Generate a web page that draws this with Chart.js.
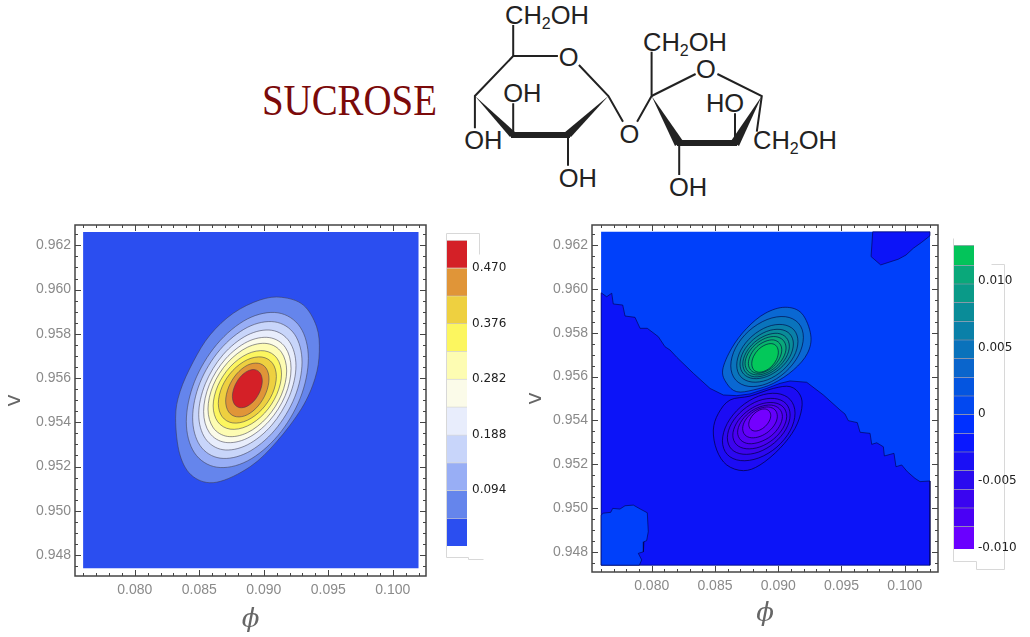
<!DOCTYPE html>
<html lang="en">
<head>
<meta charset="UTF-8">
<title>Sucrose</title>
<script src="https://cdn.jsdelivr.net/npm/chart.js"></script>
<style>
  html, body { margin: 0; background: #fff; }
  body { position: relative; width: 1030px; height: 637px; overflow: hidden; }
  canvas, svg { position: absolute; }
</style>
</head>
<body>
<svg id="sketch" style="left:0;top:0" width="1030" height="637">
  <text x="262" y="115" font-family="Liberation Serif" font-size="44" fill="#7b0a0a" textLength="175" lengthAdjust="spacingAndGlyphs">SUCROSE</text>
  <g stroke="#222" stroke-width="2" fill="none">
    <path d="M513.2 25V56H557.9M578.9 65L608.4 96L623 121.7M637.1 121.7L651.6 96V51.7M608.4 96"/>
    <path d="M513.2 56L474.9 96V128.3M513.2 135V103.3M568 135V165.7"/>
    <path d="M651.6 96L695.6 74M717.4 74L761.8 96L756.8 131.7M735 143.3V113.3M679.2 143.3V175"/>
  </g>
  <g fill="#222" stroke="none">
    <path d="M608.4 96L571 137L564 133Z"/>
    <path d="M474.9 96L516 133L510 137Z"/>
    <rect x="511" y="132" width="59" height="6"/>
    <path d="M651.6 96L683 141L675 146Z"/>
    <rect x="677" y="140" width="60" height="6"/>
    <path d="M761.8 96L739 146L731 141Z"/>
  </g>
  <g font-family="Liberation Sans" font-size="25.5" fill="#222" text-anchor="middle" dominant-baseline="central">
    <text x="568.6" y="57.3">O</text>
    <text x="522.3" y="93.3">OH</text>
    <text x="483.3" y="140">OH</text>
    <text x="577.8" y="178.3">OH</text>
    <text x="629.4" y="134">O</text>
    <text x="705.9" y="69.3">O</text>
    <text x="725" y="102.7">HO</text>
    <text x="688" y="187.3">OH</text>
  </g>
  <g font-family="Liberation Sans" font-size="25.5" fill="#222">
    <text x="505" y="24">CH<tspan font-size="16" dy="5">2</tspan><tspan dy="-5">OH</tspan></text>
    <text x="643" y="51">CH<tspan font-size="16" dy="5">2</tspan><tspan dy="-5">OH</tspan></text>
    <text x="753" y="149">CH<tspan font-size="16" dy="5">2</tspan><tspan dy="-5">OH</tspan></text>
  </g>
  <g stroke="#d8d8d8" stroke-width="1" fill="none">
    <path d="M479.5 254.5V233.5H446.5V557.5H468.5V559.5H483.5"/>
    <path d="M991.5 264.5H1004.5V569.5H976.5V561.5H953.5V238.5"/>
  </g>
</svg>
<canvas id="leftPlot" style="left:0;top:220px" width="432" height="417"></canvas>
<canvas id="rightPlot" style="left:520px;top:220px" width="422" height="417"></canvas>
<canvas id="leftBar" style="left:440px;top:230px" width="80" height="330"></canvas>
<canvas id="rightBar" style="left:947px;top:235px" width="83" height="330"></canvas>
<script>
// plot field, same in both panels
const fieldX = [0.076, 0.102, 0.102, 0.076];
const fieldY = [0.9474, 0.9474, 0.9626, 0.9626];

const xMajor = [0.08, 0.085, 0.09, 0.095, 0.1];
const yMajor = [0.948, 0.95, 0.952, 0.954, 0.956, 0.958, 0.96, 0.962];

// left panel contours, outside to inside
const leftContourX = [
  [0.08317,0.08351,0.08454,0.08584,0.08764,0.08971,0.09139,0.09307,0.09410,0.09431,0.09398,0.09294,0.09100,0.08894,0.08635,0.08454,0.08351],
  [0.09346,0.09283,0.09110,0.08873,0.08636,0.08463,0.08400,0.08463,0.08636,0.08873,0.09110,0.09283],
  [0.09297,0.09240,0.09085,0.08873,0.08661,0.08506,0.08449,0.08506,0.08661,0.08873,0.09085,0.09240],
  [0.09250,0.09199,0.09062,0.08873,0.08684,0.08547,0.08496,0.08547,0.08684,0.08873,0.09062,0.09199],
  [0.09212,0.09167,0.09043,0.08873,0.08703,0.08579,0.08534,0.08579,0.08703,0.08873,0.09043,0.09167],
  [0.09178,0.09137,0.09026,0.08873,0.08720,0.08609,0.08568,0.08609,0.08720,0.08873,0.09026,0.09137],
  [0.09138,0.09102,0.09006,0.08873,0.08740,0.08644,0.08608,0.08644,0.08740,0.08873,0.09006,0.09102],
  [0.09098,0.09068,0.08986,0.08873,0.08760,0.08678,0.08648,0.08678,0.08760,0.08873,0.08986,0.09068],
  [0.09041,0.09018,0.08957,0.08873,0.08789,0.08728,0.08705,0.08728,0.08789,0.08873,0.08957,0.09018],
  [0.08989,0.08973,0.08931,0.08873,0.08815,0.08773,0.08757,0.08773,0.08815,0.08873,0.08931,0.08973]
];
const leftContourY = [
  [0.95418,0.95538,0.95674,0.95795,0.95893,0.95953,0.95965,0.95930,0.95832,0.95719,0.95599,0.95463,0.95312,0.95199,0.95129,0.95154,0.95252],
  [0.95689,0.95830,0.95895,0.95867,0.95752,0.95583,0.95403,0.95262,0.95197,0.95225,0.95340,0.95509],
  [0.95672,0.95797,0.95854,0.95829,0.95728,0.95579,0.95420,0.95295,0.95238,0.95263,0.95364,0.95513],
  [0.95656,0.95765,0.95816,0.95794,0.95705,0.95574,0.95436,0.95327,0.95276,0.95298,0.95387,0.95518],
  [0.95643,0.95739,0.95783,0.95764,0.95686,0.95571,0.95449,0.95353,0.95309,0.95328,0.95406,0.95521],
  [0.95632,0.95717,0.95756,0.95739,0.95670,0.95568,0.95460,0.95375,0.95336,0.95353,0.95422,0.95524],
  [0.95618,0.95690,0.95723,0.95709,0.95651,0.95565,0.95474,0.95402,0.95369,0.95383,0.95441,0.95527],
  [0.95607,0.95667,0.95695,0.95683,0.95634,0.95562,0.95485,0.95425,0.95397,0.95409,0.95458,0.95530],
  [0.95596,0.95645,0.95667,0.95658,0.95618,0.95559,0.95496,0.95447,0.95425,0.95434,0.95474,0.95533],
  [0.95587,0.95622,0.95638,0.95631,0.95603,0.95561,0.95517,0.95482,0.95466,0.95473,0.95501,0.95543]
];
const leftBase = '#2b4ef0';
const leftColors = ['#6585ec','#98aef5','#c8d5fa','#e8edfc','#fbfbe9','#fdfcb2','#fcf65f','#eed040','#e09538','#d42027'];

// right panel, regions split by the zero contour
const rightAbove = '#0040fa';
const rightBelow = '#0c14f8';
const zeroLineX = [0.076,0.07644,0.07684,0.07696,0.07771,0.07789,0.07868,0.07908,0.07965,0.08052,0.08105,0.08145,0.08198,0.08329,0.08461,0.08566,0.08672,0.08777,0.08909,0.09014,0.09093,0.09225,0.09357,0.09488,0.09528,0.09554,0.09625,0.09647,0.09726,0.09739,0.09779,0.09831,0.09839,0.09915,0.09931,0.09976,0.10021,0.10081,0.10121,0.102,0.102,0.102,0.076];
const zeroLineY = [0.95982,0.95964,0.95980,0.95931,0.95926,0.95876,0.95870,0.95820,0.95820,0.95782,0.95736,0.95721,0.95688,0.95615,0.95546,0.95516,0.95513,0.95521,0.95546,0.95569,0.95580,0.95574,0.95516,0.95448,0.95429,0.95399,0.95390,0.95346,0.95341,0.95291,0.95298,0.95280,0.95238,0.95250,0.95189,0.95197,0.95166,0.95136,0.95121,0.95124,0.95069,0.9474,0.9474];
const cornerLowX = [0.076,0.07617,0.07676,0.07692,0.07749,0.07789,0.07855,0.07913,0.07965,0.07973,0.07960,0.07939,0.07934,0.07894,0.07921,0.07902,0.076];
const cornerLowY = [0.94969,0.94977,0.94981,0.94999,0.94996,0.95011,0.95014,0.94995,0.94979,0.94893,0.94852,0.94847,0.94801,0.94794,0.94764,0.9474,0.9474];
const cornerHighX = [0.09747,0.09734,0.09810,0.09949,0.10010,0.10068,0.10134,0.102,0.102];
const cornerHighY = [0.9626,0.96147,0.96109,0.96135,0.96154,0.96185,0.96212,0.96242,0.9626];

const upperLobeX = [
  [0.08561,0.08632,0.08751,0.08896,0.09054,0.09186,0.09257,0.09231,0.09120,0.08962,0.08804,0.08672,0.08593],
  [0.09199,0.09161,0.09056,0.08912,0.08768,0.08663,0.08625,0.08663,0.08768,0.08912,0.09056,0.09161],
  [0.09156,0.09124,0.09035,0.08914,0.08793,0.08704,0.08672,0.08704,0.08793,0.08914,0.09035,0.09124],
  [0.09120,0.09092,0.09015,0.08909,0.08803,0.08726,0.08698,0.08726,0.08803,0.08909,0.09015,0.09092],
  [0.09088,0.09063,0.08996,0.08904,0.08812,0.08745,0.08720,0.08745,0.08812,0.08904,0.08996,0.09063],
  [0.09062,0.09040,0.08981,0.08900,0.08819,0.08760,0.08738,0.08760,0.08819,0.08900,0.08981,0.09040],
  [0.09028,0.09010,0.08962,0.08896,0.08830,0.08782,0.08764,0.08782,0.08830,0.08896,0.08962,0.09010],
  [0.09001,0.08987,0.08949,0.08896,0.08843,0.08805,0.08791,0.08805,0.08843,0.08896,0.08949,0.08987]
];
const upperLobeY = [
  [0.95630,0.95729,0.95820,0.95888,0.95916,0.95888,0.95790,0.95706,0.95630,0.95569,0.95539,0.95531,0.95569],
  [0.95779,0.95843,0.95873,0.95860,0.95808,0.95731,0.95649,0.95585,0.95555,0.95568,0.95620,0.95697],
  [0.95760,0.95813,0.95837,0.95827,0.95784,0.95720,0.95652,0.95599,0.95575,0.95585,0.95628,0.95692],
  [0.95749,0.95794,0.95815,0.95806,0.95769,0.95715,0.95657,0.95612,0.95591,0.95600,0.95637,0.95691],
  [0.95738,0.95778,0.95797,0.95788,0.95756,0.95708,0.95658,0.95618,0.95599,0.95608,0.95640,0.95688],
  [0.95730,0.95765,0.95782,0.95775,0.95746,0.95704,0.95660,0.95625,0.95608,0.95615,0.95644,0.95686],
  [0.95722,0.95752,0.95767,0.95760,0.95736,0.95699,0.95660,0.95630,0.95615,0.95622,0.95646,0.95683],
  [0.95711,0.95738,0.95750,0.95744,0.95723,0.95692,0.95659,0.95632,0.95620,0.95626,0.95647,0.95678]
];
const upperColors = ['#0a68d2','#0a74bc','#0a80a8','#0a8c98','#0a9a88','#0aa87a','#09b46c','#03c85a'];

const lowerLobeX = [
  [0.08487,0.08527,0.08619,0.08777,0.08962,0.09094,0.09173,0.09186,0.09133,0.09014,0.08856,0.08725,0.08593,0.08514],
  [0.09133,0.09095,0.08990,0.08846,0.08702,0.08597,0.08559,0.08597,0.08702,0.08846,0.08990,0.09095],
  [0.09094,0.09061,0.08970,0.08846,0.08722,0.08631,0.08598,0.08631,0.08722,0.08846,0.08970,0.09061],
  [0.09067,0.09038,0.08961,0.08854,0.08747,0.08670,0.08641,0.08670,0.08747,0.08854,0.08961,0.09038],
  [0.09033,0.09009,0.08945,0.08856,0.08767,0.08703,0.08679,0.08703,0.08767,0.08856,0.08945,0.09009],
  [0.08993,0.08975,0.08925,0.08856,0.08787,0.08737,0.08719,0.08737,0.08787,0.08856,0.08925,0.08975],
  [0.08941,0.08929,0.08898,0.08854,0.08810,0.08779,0.08767,0.08779,0.08810,0.08854,0.08898,0.08929]
];
const lowerLobeY = [
  [0.95356,0.95432,0.95493,0.95511,0.95546,0.95554,0.95516,0.95455,0.95364,0.95273,0.95197,0.95171,0.95197,0.95265],
  [0.95433,0.95495,0.95523,0.95511,0.95461,0.95386,0.95307,0.95245,0.95217,0.95229,0.95279,0.95354],
  [0.95425,0.95477,0.95500,0.95490,0.95448,0.95386,0.95321,0.95269,0.95246,0.95256,0.95298,0.95360],
  [0.95419,0.95462,0.95481,0.95473,0.95438,0.95387,0.95333,0.95290,0.95271,0.95279,0.95314,0.95365],
  [0.95418,0.95453,0.95470,0.95462,0.95434,0.95391,0.95346,0.95311,0.95294,0.95302,0.95330,0.95373],
  [0.95419,0.95448,0.95461,0.95455,0.95432,0.95398,0.95363,0.95334,0.95321,0.95327,0.95350,0.95384],
  [0.95422,0.95442,0.95452,0.95448,0.95431,0.95407,0.95382,0.95362,0.95352,0.95356,0.95373,0.95397]
];
const lowerColors = ['#1c0cf4','#2c08f0','#3c04ee','#4a00f0','#5600f4','#6400fa','#7400ff'];

// colour bars
const leftBarEdges = [0,0.047,0.094,0.141,0.188,0.235,0.282,0.329,0.376,0.423,0.47,0.517];
const leftBarColors = [leftBase,'#6585ec','#98aef5','#c8d5fa','#e8edfc','#fbfbe9','#fdfcb2','#fcf65f','#eed040','#e09538','#d42027'];
const leftBarTicks = [0.094,0.188,0.282,0.376,0.47];
const leftBarLabels = ['0.094','0.188','0.282','0.376','0.470'];

const rightBarEdges = [-0.0101,-0.0084,-0.007,-0.0056,-0.0042,-0.0028,-0.0014,0,0.0014,0.0028,0.0042,0.0056,0.007,0.0084,0.0098,0.0112,0.0127];
const rightBarColors = ['#6a00ff','#4a00f5','#3a05f0','#2a0aef','#1a10f5','#0a18ff','#0030ff','#0248f0','#0455e0','#0a65cc','#0a72bb','#0a80a8','#0a8c98','#0a9a88','#0aa87a','#03c45a'];
const rightBarTicks = [-0.01,-0.005,0,0.005,0.01];
const rightBarLabels = ['-0.010','-0.005','0','0.005','0.010'];

const toPoints = (xs, ys) => {
  const pts = xs.map((x, i) => ({ x: x, y: ys[i] }));
  pts.push(pts[0]);
  return pts;
};

// filled closed shape; later entries end up on top via order
const shape = (xs, ys, color, line, tension, order) => ({
  data: toPoints(xs, ys),
  showLine: true,
  fill: 'shape',
  backgroundColor: color,
  borderColor: line,
  borderWidth: line === 'transparent' ? 0 : 1,
  pointRadius: 0,
  tension: tension,
  order: order
});

// chart.js weights control points by chord length and leaves a kink at the
// seam, which makes the contours lumpy, so use even weights around the loop
const roundLoops = {
  id: 'roundLoops',
  beforeDatasetsDraw(chart) {
    chart.getSortedVisibleDatasetMetas().forEach(meta => {
      if (!meta.dataset.options.tension) return;
      const pts = meta.data;
      const n = pts.length - 1;
      for (let i = 0; i <= n; i++) {
        const p = pts[i % n], prev = pts[(i - 1 + n) % n], next = pts[(i + 1) % n];
        const dx = 0.17 * (next.x - prev.x), dy = 0.17 * (next.y - prev.y);
        pts[i].cp1x = p.x - dx; pts[i].cp1y = p.y - dy;
        pts[i].cp2x = p.x + dx; pts[i].cp2y = p.y + dy;
      }
      meta.dataset._pointsUpdated = true;
    });
  }
};

// frame with inward ticks on all four sides
const framePlugin = {
  id: 'frameTicks',
  afterDraw(chart) {
    const { ctx, chartArea: a, scales: { x, y } } = chart;
    ctx.save();
    ctx.strokeStyle = '#444';
    ctx.lineWidth = 1;
    ctx.beginPath();
    const xTick = (v, len) => {
      const p = Math.round(x.getPixelForValue(v)) + 0.5;
      ctx.moveTo(p, a.bottom); ctx.lineTo(p, a.bottom - len);
      ctx.moveTo(p, a.top); ctx.lineTo(p, a.top + len);
    };
    const yTick = (v, len) => {
      const p = Math.round(y.getPixelForValue(v)) + 0.5;
      ctx.moveTo(a.left, p); ctx.lineTo(a.left + len, p);
      ctx.moveTo(a.right, p); ctx.lineTo(a.right - len, p);
    };
    for (let k = 76; k <= 102; k++) xTick(k / 1000, k % 5 === 0 ? 6 : 3);
    for (let k = 1895; k <= 1925; k++) yTick(k / 2000, k % 4 === 0 ? 6 : 3);
    ctx.stroke();
    ctx.lineWidth = 1.5;
    ctx.strokeRect(a.left, a.top, a.right - a.left, a.bottom - a.top);
    ctx.restore();
  }
};

const plotOptions = (xr, yr, yWidth, xHeight, pad, titlePad) => ({
  responsive: false,
  animation: false,
  layout: { padding: pad },
  plugins: { legend: { display: false }, tooltip: { enabled: false } },
  scales: {
    x: {
      type: 'linear', min: xr[0], max: xr[1],
      grid: { display: false, drawTicks: false }, border: { display: false },
      afterBuildTicks: s => { s.ticks = xMajor.map(v => ({ value: v })); },
      afterFit: s => { s.height = xHeight; s.paddingLeft = 0; s.paddingRight = 0; },
      ticks: {
        autoSkip: false, maxRotation: 0, padding: 6, color: '#8a8a8a',
        font: { family: 'Liberation Sans', size: 14 },
        callback: v => v.toFixed(3)
      },
      title: {
        display: true, text: 'ϕ', color: '#666', padding: { top: 0, bottom: titlePad.x },
        font: { family: 'DejaVu Serif', style: 'italic', size: 26 }
      }
    },
    y: {
      type: 'linear', min: yr[0], max: yr[1],
      grid: { display: false, drawTicks: false }, border: { display: false },
      afterBuildTicks: s => { s.ticks = yMajor.map(v => ({ value: v })); },
      afterFit: s => { s.width = yWidth; s.paddingTop = 0; s.paddingBottom = 0; },
      ticks: {
        autoSkip: false, padding: 4, color: '#8a8a8a',
        font: { family: 'Liberation Sans', size: 14 },
        callback: v => v.toFixed(3)
      },
      title: {
        display: true, text: 'v', color: '#666', padding: { top: titlePad.y, bottom: 0 },
        font: { family: 'DejaVu Sans', size: 22 }
      }
    }
  }
});

const leftSets = [shape(fieldX, fieldY, leftBase, 'transparent', 0, 0)];
leftContourX.forEach((xs, i) => {
  leftSets.push(shape(xs, leftContourY[i], leftColors[i], 'rgba(60,60,80,0.55)', 0.34, -1 - i));
});

new Chart(document.getElementById('leftPlot'), {
  type: 'scatter',
  data: { datasets: leftSets },
  options: plotOptions([0.07537, 0.10258], [0.94705, 0.96292], 75, 61, { left: 0, right: 6, top: 5, bottom: 0 }, { x: 1, y: 1 }),
  plugins: [roundLoops, framePlugin]
});

const rightSets = [
  shape(fieldX, fieldY, rightAbove, 'transparent', 0, 0),
  shape(zeroLineX, zeroLineY, rightBelow, 'rgba(0,0,70,0.6)', 0, -1),
  shape(cornerLowX, cornerLowY, rightAbove, 'rgba(0,0,70,0.6)', 0, -2),
  shape(cornerHighX, cornerHighY, rightBelow, 'rgba(0,0,70,0.6)', 0, -3)
];
upperLobeX.forEach((xs, i) => {
  rightSets.push(shape(xs, upperLobeY[i], upperColors[i], 'rgba(0,0,60,0.6)', 0.34, -4 - i));
});
lowerLobeX.forEach((xs, i) => {
  rightSets.push(shape(xs, lowerLobeY[i], lowerColors[i], 'rgba(0,0,60,0.7)', 0.34, -20 - i));
});

new Chart(document.getElementById('rightPlot'), {
  type: 'scatter',
  data: { datasets: rightSets },
  options: plotOptions([0.07528, 0.10263], [0.94709, 0.96291], 72, 65, { left: 0, right: 4, top: 5, bottom: 0 }, { x: 7, y: 2 }),
  plugins: [roundLoops, framePlugin]
});

const colorBar = (id, edges, colors, tickVals, tickLabels, pad, axisWidth, tickPad, line) => {
  new Chart(document.getElementById(id), {
    type: 'bar',
    data: {
      labels: ['scale'],
      datasets: colors.map((c, i) => ({
        data: [[edges[i], edges[i + 1]]],
        backgroundColor: c,
        borderColor: line,
        borderWidth: { top: 1, bottom: 0, left: 0, right: 0 },
        borderSkipped: false,
        barPercentage: 1,
        categoryPercentage: 1,
        grouped: false
      }))
    },
    options: {
      responsive: false,
      animation: false,
      layout: { padding: pad },
      plugins: { legend: { display: false }, tooltip: { enabled: false } },
      scales: {
        x: { display: false },
        y: {
          position: 'right', min: edges[0], max: edges[edges.length - 1],
          grid: { display: false, drawTicks: false }, border: { display: false },
          afterBuildTicks: s => { s.ticks = tickVals.map(v => ({ value: v })); },
          afterFit: s => { s.width = axisWidth; s.paddingTop = 0; s.paddingBottom = 0; },
          ticks: {
            autoSkip: false, padding: tickPad, color: '#222',
            font: { family: 'DejaVu Sans', size: 12 },
            callback: v => tickLabels[tickVals.indexOf(v)]
          }
        }
      }
    }
  });
};

colorBar('leftBar', leftBarEdges, leftBarColors, leftBarTicks, leftBarLabels, { left: 7, top: 10, bottom: 14, right: 0 }, 53, 5, 'rgba(60,60,60,0.2)');
colorBar('rightBar', rightBarEdges, rightBarColors, rightBarTicks, rightBarLabels, { left: 7, top: 10, bottom: 16, right: 0 }, 56, 4, 'rgba(0,0,50,0.35)');
</script>
</body>
</html>
